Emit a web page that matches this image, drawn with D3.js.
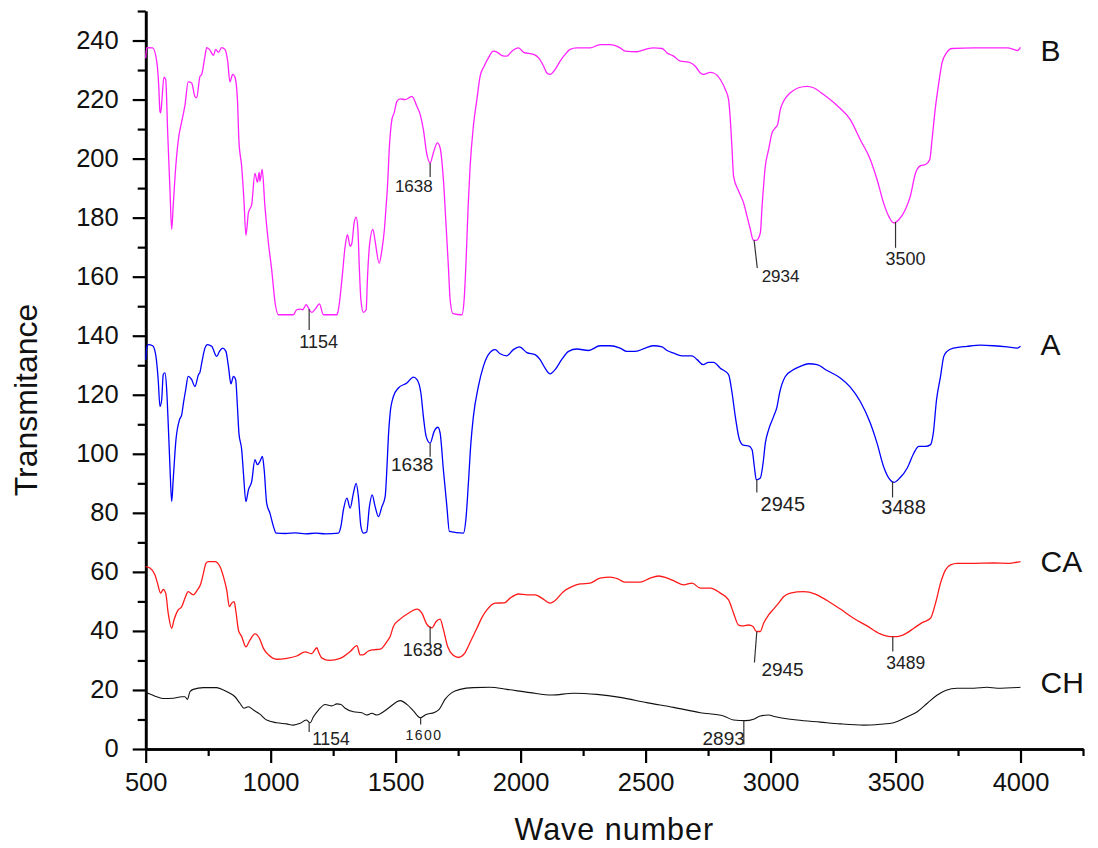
<!DOCTYPE html>
<html>
<head>
<meta charset="utf-8">
<script src="https://cdn.jsdelivr.net/npm/d3@7"></script>
<style>
  html, body { margin: 0; padding: 0; background: #fff; }
  svg { display: block; font-family: Arial, "Liberation Sans", sans-serif; }
</style>
</head>
<body>
<svg id="chart" width="1098" height="848"></svg>
<script>
// FTIR spectra: [wave number, transmittance] (stacked, offset curves)
const seriesB = [[500,234],[504,237.6],[528,237.5],[544,233],[552,225],[557,216],[560,215.5],[565,220],[573,227.6],[580,226.8],[588,208.7],[597,189.5],[604,176],[610,184],[620,197],[630,206],[644,212.5],[657,218],[670,226],[684,225.6],[697,221],[704,220.6],[717,227.8],[724,228.5],[737,234.6],[744,237.6],[755,237],[771,235],[780,237],[791,236],[804,237.6],[817,237],[828,233],[837,226],[848,228.5],[857,227.6],[867,220],[873,206],[884,197.3],[893,186],[901,174],[911,181.7],[924,184.4],[937,195],[947,192],[954,195.3],[957,192.3],[966,196.3],[977,183.8],[991,171.4],[1004,162.4],[1018,151],[1031,147.1],[1091,147.1],[1104,148.8],[1118,149],[1128,148.8],[1142,150.5],[1151,149.4],[1164,147.9],[1178,149],[1195,150.8],[1211,147.1],[1265,147.1],[1271,148.8],[1285,159],[1298,170.3],[1307,174.2],[1318,170.3],[1325,171.4],[1334,178.2],[1342,180.2],[1349,176],[1355,162.4],[1361,152.2],[1371,147.9],[1382,148.8],[1387,159],[1395,170.3],[1409,176],[1418,172],[1434,164.6],[1445,169],[1455,176],[1462,184],[1467,190],[1475,204],[1485,213.2],[1494,215.5],[1505,219.4],[1518,220.2],[1538,220],[1565,221.1],[1585,217.7],[1598,215],[1611,209.8],[1625,201.4],[1638,198.5],[1651,202],[1667,205.3],[1678,203.6],[1691,192.9],[1702,177],[1711,163.5],[1718,152.2],[1729,147.5],[1765,147.1],[1774,152.2],[1782,165.8],[1790,183.8],[1798,197.4],[1811,211],[1825,220],[1838,227.9],[1854,231.3],[1871,234.1],[1891,236.4],[1907,236],[1925,234.9],[1945,234.7],[1965,236.4],[1992,237.5],[2012,236],[2052,235.3],[2072,234.1],[2092,231.3],[2105,229],[2118,228.5],[2138,230.2],[2158,233],[2178,235.3],[2198,237],[2225,237.5],[2278,237.5],[2318,238.6],[2358,238.6],[2398,237.5],[2418,236.4],[2465,236.2],[2499,237],[2532,237.5],[2566,237.3],[2586,235.8],[2612,234.7],[2639,233],[2672,232.7],[2699,231.3],[2719,229],[2732,228.5],[2759,229.2],[2772,229],[2799,226.8],[2819,223.4],[2832,220],[2839,213.2],[2846,203],[2852,194],[2872,189],[2892,185],[2906,180.4],[2919,176],[2930,172.5],[2943,172.3],[2959,174.8],[2966,183.8],[2979,197.4],[2992,203],[3006,208.7],[3019,210.4],[3028,211.5],[3039,216.6],[3052,219.4],[3079,222.3],[3112,224],[3146,224.5],[3172,224],[3212,221.7],[3266,218],[3319,213.2],[3359,206.4],[3399,199.7],[3426,192.9],[3452,185],[3476,179.9],[3493,178.2],[3513,179.3],[3539,182.7],[3559,187.2],[3580,195.1],[3600,197.6],[3620,198],[3637,199.7],[3646,206.4],[3660,217.7],[3673,225.6],[3686,232.4],[3704,235.8],[3726,237.3],[3813,237.5],[3947,237.5],[3973,237],[3987,236.6],[4000,237.7]];

const seriesA = [[500,131.9],[504,135.8],[510,137],[528,136.6],[541,133],[550,125.1],[557,116],[564,118.3],[570,126.8],[577,127.4],[584,121.7],[590,110.4],[597,95.7],[604,83.8],[610,91.2],[621,104.7],[635,111.5],[644,113.2],[651,117.2],[660,121.7],[670,126.2],[684,125.1],[697,122.8],[711,126.8],[717,127.6],[724,130.7],[737,135.8],[747,137],[764,136.4],[784,133],[795,134.7],[808,135.8],[821,134.7],[831,129.6],[841,123.7],[851,126.2],[860,125.1],[867,116],[873,107],[884,101.4],[891,93.5],[901,83.8],[911,87.8],[924,90.6],[937,98],[947,96.3],[957,97.4],[967,99.1],[974,94.6],[984,83.3],[997,79.9],[1011,75.4],[1022,73.1],[1060,73],[1100,73.2],[1140,72.9],[1180,73.1],[1220,72.9],[1271,73.1],[1281,75.4],[1291,81],[1305,85],[1318,81.6],[1331,86.7],[1342,90],[1351,85.5],[1361,75.4],[1371,73.1],[1384,73.5],[1395,82.1],[1406,86.1],[1418,82.1],[1431,78.7],[1445,82.1],[1458,85.5],[1465,95],[1471,105.9],[1478,113.8],[1491,119.4],[1511,122.3],[1545,124],[1571,126],[1585,125.2],[1601,120.6],[1611,112.6],[1622,105.9],[1638,103.6],[1654,107.6],[1669,109],[1678,107],[1691,94.6],[1705,82.1],[1715,73.7],[1771,73.1],[1782,78.7],[1791,90],[1801,103.6],[1811,112.6],[1831,122.8],[1851,129.6],[1871,133.6],[1898,135.3],[1918,133.9],[1945,133.2],[1971,135.3],[1995,136.2],[2025,134.3],[2058,133.6],[2078,131.9],[2098,129],[2118,127.1],[2138,128.5],[2164,131.9],[2192,134.7],[2225,135.5],[2272,135],[2318,136.6],[2358,136.6],[2398,135.8],[2425,134.7],[2459,134.7],[2499,135.8],[2532,136.6],[2566,136.2],[2586,135],[2612,134.1],[2646,133.2],[2686,133.2],[2706,131.9],[2730,130.2],[2752,131],[2772,131],[2799,129],[2832,126.8],[2846,120.6],[2859,112.6],[2876,104.7],[2892,102.9],[2912,102.7],[2926,101.4],[2935,95.7],[2943,91.2],[2959,91.8],[2970,96.8],[2979,103.6],[2992,108.1],[3012,112.6],[3026,116],[3036,120.6],[3059,126.2],[3086,128.2],[3119,129.6],[3152,130.5],[3186,130.2],[3226,128.2],[3279,125.7],[3319,122.6],[3359,117.7],[3399,110.4],[3426,103.6],[3452,95.7],[3476,91.4],[3493,90.3],[3517,91.8],[3547,95.2],[3573,100.2],[3593,102.5],[3620,102.5],[3640,103.1],[3651,107],[3664,118.3],[3680,126.2],[3693,133],[3706,134.7],[3733,135.8],[3786,136.4],[3840,136.8],[3893,136.6],[3947,136.2],[3987,135.8],[4000,136.4]];

const seriesCA = [[500,61.8],[517,61.3],[537,59],[547,56.2],[560,52.8],[570,54.1],[580,52.8],[590,46],[604,40.9],[613,43.7],[630,47.1],[644,48.2],[657,51.1],[670,53.3],[690,52.2],[707,53.9],[720,55.9],[731,59.6],[741,62.9],[751,63.5],[777,63.5],[797,61.8],[811,58.4],[824,53.9],[835,48.2],[844,49.4],[854,49.9],[861,46.5],[871,40.3],[884,38.1],[901,34.6],[917,36.9],[937,39],[955,37.5],[971,34.1],[991,31.9],[1024,30.4],[1064,30.7],[1104,31.5],[1138,32.9],[1164,32.3],[1185,34.3],[1191,33],[1205,30.8],[1235,30],[1278,30.7],[1318,33],[1345,35],[1358,31.9],[1369,31.9],[1391,33.2],[1411,33.6],[1438,33.8],[1465,36.4],[1478,38.1],[1491,41.5],[1518,44],[1551,46],[1585,47.4],[1605,46],[1625,42.2],[1645,41],[1662,43.2],[1678,44],[1691,40.5],[1708,34.7],[1728,31.9],[1751,31],[1774,32.2],[1800,36.5],[1825,40.9],[1845,44.5],[1865,47.1],[1898,49.4],[1935,49.5],[1958,51.1],[1992,52.5],[2025,52.2],[2058,52.2],[2092,50.7],[2118,49.4],[2138,50.3],[2171,53.3],[2205,55],[2238,55.9],[2278,56.2],[2318,57.9],[2358,58.2],[2392,57.5],[2418,56.5],[2478,56.5],[2518,57.9],[2552,58.6],[2586,57.9],[2619,56.7],[2652,55.6],[2686,56.2],[2719,54.5],[2759,54.5],[2799,52.8],[2832,50.5],[2852,46],[2872,42],[2892,41.7],[2912,42],[2930,41.5],[2943,39.8],[2959,39.8],[2972,42.6],[2992,45.4],[3012,47.4],[3032,49.4],[3052,51.6],[3079,52.8],[3132,53.3],[3179,52.5],[3226,50.3],[3279,47.4],[3332,44.3],[3386,41.7],[3439,39],[3479,38.1],[3506,38.1],[3539,39],[3573,40.9],[3606,42.8],[3640,44.3],[3660,49.4],[3680,56.2],[3700,60.7],[3720,62.4],[3746,62.9],[3813,62.9],[3893,63],[3947,62.9],[3973,63.1],[4000,63.5]];

const seriesCH = [[500,19.1],[517,18.6],[544,17.7],[570,17.1],[610,17.2],[644,17.7],[657,17.7],[667,16.8],[677,19.4],[690,20.2],[731,20.8],[784,20.8],[811,20],[837,18.9],[857,17.7],[877,15.5],[893,13.8],[911,14.3],[931,13.2],[957,11.8],[984,9.8],[1024,8.9],[1064,8.5],[1091,8.1],[1118,8.7],[1142,9.8],[1158,8.9],[1171,10.9],[1191,13.2],[1218,15.1],[1245,14.6],[1265,15.3],[1281,15.1],[1298,13.8],[1331,12.6],[1365,12.3],[1384,11.5],[1405,12.1],[1425,11.5],[1451,12.6],[1478,14.3],[1505,16],[1518,16.4],[1545,15.1],[1571,12.9],[1598,10.6],[1622,11.7],[1655,12.4],[1675,13.5],[1698,16.9],[1725,19.1],[1758,20.2],[1811,20.8],[1878,20.9],[1945,20.2],[2038,19.1],[2125,18.3],[2212,18.9],[2305,18.5],[2398,17.5],[2505,15.7],[2612,14.1],[2719,12.3],[2812,11.2],[2852,9.8],[2899,9.6],[2932,10.1],[2959,11.2],[2992,11.5],[3019,10.9],[3039,10.6],[3106,9.8],[3199,9.1],[3279,8.5],[3373,8.1],[3439,8.4],[3493,8.9],[3547,10.9],[3587,12.6],[3627,15.5],[3667,18.3],[3700,19.8],[3746,20.6],[3813,20.6],[3867,20.9],[3907,20.6],[4000,20.9]];

const seriesNames = ["B", "A", "CA", "CH"];
const seriesColors = ["#ff22ff", "#0000ff", "#ff1a1a", "#111111"];
const seriesData = [seriesB, seriesA, seriesCA, seriesCH];

// Tick values
const xMajorTicks = [500, 1000, 1500, 2000, 2500, 3000, 3500, 4000];
const xMinorTicks = [750, 1250, 1750, 2250, 2750, 3250, 3750, 4250];
const yMajorTicks = [0, 20, 40, 60, 80, 100, 120, 140, 160, 180, 200, 220, 240];
const yMinorTicks = [10, 30, 50, 70, 90, 110, 130, 150, 170, 190, 210, 230, 250];

// Marked absorption bands: series and wave number
const peakSeries = ["B", "B", "B", "B", "A", "A", "A", "CA", "CA", "CA", "CH", "CH", "CH"];
const peakWaves  = [1154, 1638, 2934, 3500, 1638, 2945, 3488, 1638, 2945, 3489, 1154, 1600, 2893];

// Leader/label layout for each marked band (pixels)
const peakLayout = [
  {len: 21, lean: 0,    tx: 9.5,  ty: 18,   anchor: "middle", size: 18},
  {len: 14, lean: 0,    tx: 2.6,  ty: 14.7, anchor: "end",    size: 17},
  {len: 28, lean: 3.2,  tx: 4.4,  ty: 14.4, anchor: "start",  size: 17},
  {len: 26, lean: 0,    tx: 10,   ty: 17,   anchor: "middle", size: 18},
  {len: 13.5, lean: 0,  tx: 3.2,  ty: 14,   anchor: "end",    size: 19},
  {len: 13, lean: 0,    tx: 3.8,  ty: 18,   anchor: "start",  size: 20},
  {len: 16, lean: 0,    tx: 11,   ty: 16.6, anchor: "middle", size: 20},
  {len: 17.6, lean: 0,  tx: -7.4, ty: 11.7, anchor: "middle", size: 18},
  {len: 31, lean: -2.4, tx: 7,    ty: 13.4, anchor: "start",  size: 19},
  {len: 15, lean: 0,    tx: 13,   ty: 17.6, anchor: "middle", size: 17.5},
  {len: 10, lean: 0,    tx: 3,    ty: 13.3, anchor: "start",  size: 17.5},
  {len: 7,  lean: 0,    tx: 3.4,  ty: 16,   anchor: "middle", size: 14, spacing: 1.5},
  {len: 24, lean: 0,    tx: 1,    ty: 0,    anchor: "end",    size: 19}
];

const nameOffsets = [14, 9, 10.5, 6];

const svg = d3.select("#chart");
svg.append("rect").attr("width", 1098).attr("height", 848).attr("fill", "#fff");

const x = d3.scaleLinear().domain([500, 4250]).range([145.7, 1083]);
const y = d3.scaleLinear().domain([0, 250]).range([749, 11]);

// Axes
const axisColor = "#000";
function styleAxis(g) {
  g.selectAll("path.domain").attr("stroke", axisColor).attr("stroke-width", 2.6);
  g.selectAll(".tick line").attr("stroke", axisColor).attr("stroke-width", 2.2);
  g.selectAll(".tick text").attr("fill", "#111").attr("font-size", 25.5)
    .attr("font-family", "Arial, 'Liberation Sans', sans-serif");
}

const gxMinor = svg.append("g").attr("transform", `translate(0,${y(0)})`)
  .call(d3.axisBottom(x).tickValues(xMinorTicks).tickSize(7).tickSizeOuter(0).tickFormat(""));
styleAxis(gxMinor);
const gx = svg.append("g").attr("transform", `translate(0,${y(0)})`)
  .call(d3.axisBottom(x).tickValues(xMajorTicks).tickSize(14).tickSizeOuter(0).tickFormat(d3.format("d")));
styleAxis(gx);
gx.selectAll(".tick text").attr("y", 42).attr("dy", null);

const gyMinor = svg.append("g").attr("transform", `translate(${x(500)},0)`)
  .call(d3.axisLeft(y).tickValues(yMinorTicks).tickSize(8).tickSizeOuter(0).tickFormat(""));
styleAxis(gyMinor);
const gy = svg.append("g").attr("transform", `translate(${x(500)},0)`)
  .call(d3.axisLeft(y).tickValues(yMajorTicks).tickSize(13).tickSizeOuter(0).tickFormat(d3.format("d")));
styleAxis(gy);
gy.selectAll(".tick text").attr("x", -27).attr("dy", "0.3em");

// Axis titles
svg.append("text")
  .attr("x", (x(500) + x(4250)) / 2).attr("y", 840)
  .attr("text-anchor", "middle").attr("font-size", 30.5).attr("letter-spacing", 1)
  .attr("fill", "#111").text("Wave number");
svg.append("text")
  .attr("transform", "translate(37,400) rotate(-90)")
  .attr("text-anchor", "middle").attr("font-size", 32)
  .attr("fill", "#111").text("Transmitance");

// Spectra
const line = d3.line()
  .x(d => x(d[0]))
  .y(d => y(d[1]))
  .curve(d3.curveMonotoneX);

seriesData.forEach((data, i) => {
  svg.append("path")
    .datum(data)
    .attr("fill", "none")
    .attr("stroke", seriesColors[i])
    .attr("stroke-width", i === 3 ? 1.1 : 1.3)
    .attr("stroke-linejoin", "round")
    .attr("d", line);
  const last = data[data.length - 1];
  svg.append("text")
    .attr("x", x(last[0]) + 20)
    .attr("y", y(last[1]) + nameOffsets[i])
    .attr("font-size", 30)
    .attr("fill", "#111")
    .text(seriesNames[i]);
});

// Transmittance of a series at a given wave number (linear interpolation)
function valueAt(data, wn) {
  for (let k = 1; k < data.length; k++) {
    if (data[k][0] >= wn) {
      const a = data[k - 1], b = data[k];
      const t = (wn - a[0]) / (b[0] - a[0]);
      return a[1] + t * (b[1] - a[1]);
    }
  }
  return data[data.length - 1][1];
}

// Band markers
peakWaves.forEach((wn, i) => {
  const data = seriesData[seriesNames.indexOf(peakSeries[i])];
  const L = peakLayout[i];
  const x0 = x(wn), y0 = y(valueAt(data, wn));
  const x1 = x0 + L.lean, y1 = y0 + L.len;
  svg.append("line")
    .attr("x1", x0).attr("y1", y0).attr("x2", x1).attr("y2", y1)
    .attr("stroke", "#333").attr("stroke-width", 1.2);
  svg.append("text")
    .attr("x", x1 + L.tx).attr("y", y1 + L.ty)
    .attr("text-anchor", L.anchor)
    .attr("font-size", L.size)
    .attr("letter-spacing", L.spacing || 0)
    .attr("fill", "#222")
    .text(String(wn));
});
</script>
</body>
</html>
